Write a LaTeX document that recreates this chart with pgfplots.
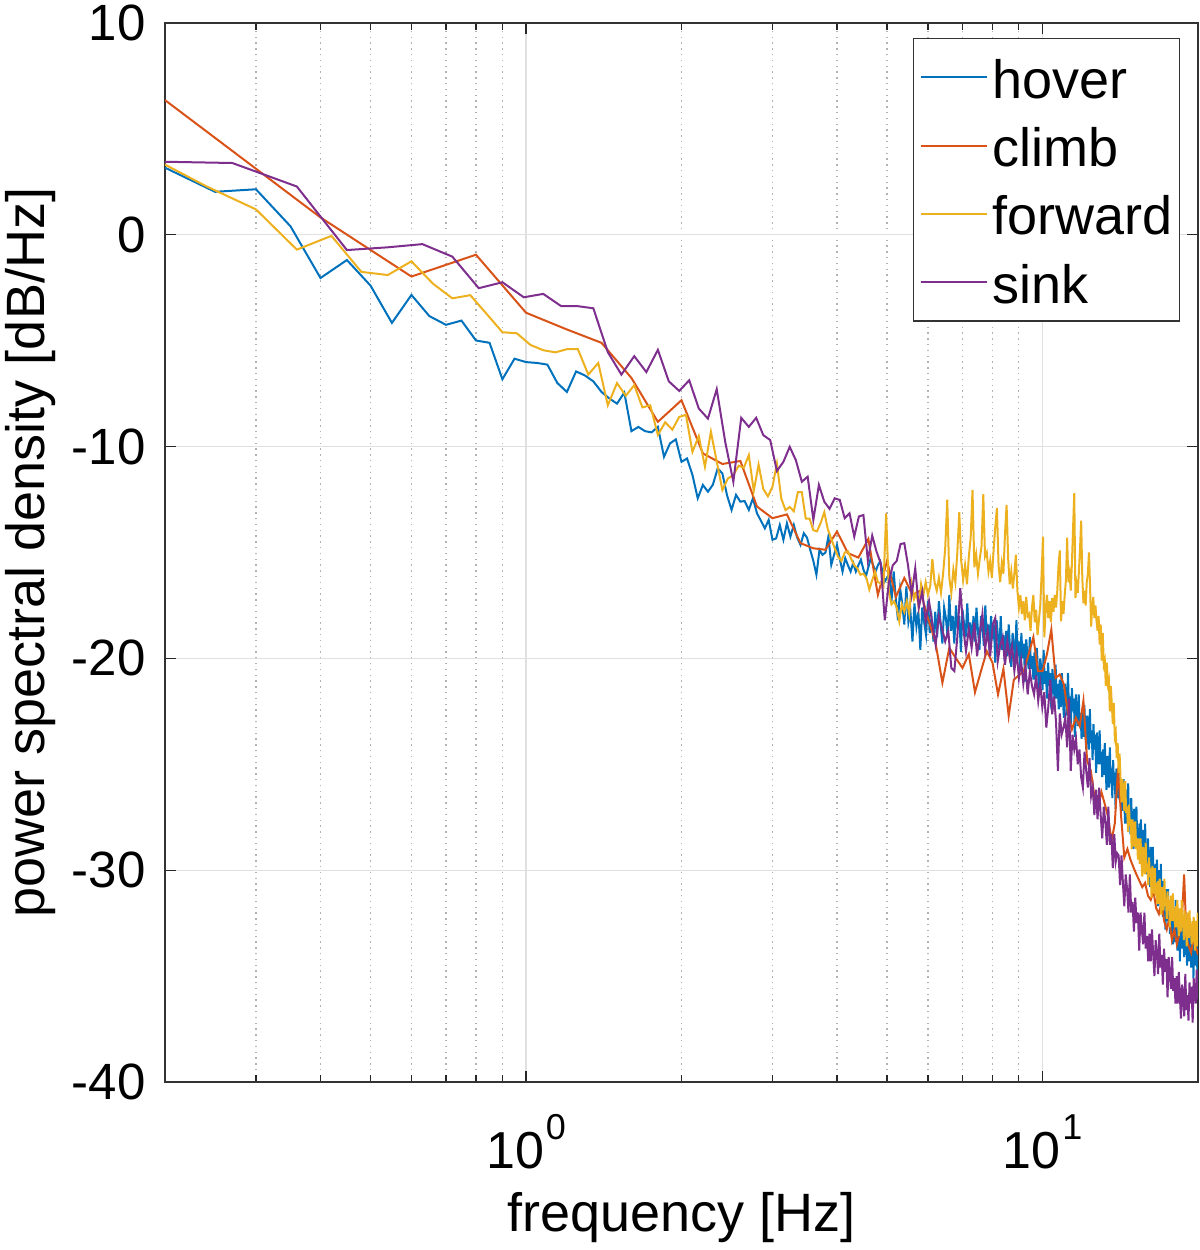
\documentclass[border=0pt]{standalone}
\usepackage{fontspec}
\setmainfont{Liberation Sans}
\usepackage{pgfplots}
\pgfplotsset{compat=1.18}
\definecolor{cHover}{rgb}{0,0.447,0.741}
\definecolor{cClimb}{rgb}{0.850,0.325,0.098}
\definecolor{cForward}{rgb}{0.929,0.694,0.125}
\definecolor{cSink}{rgb}{0.494,0.184,0.556}
\newcommand{\tp}[1]{10\kern1pt\raisebox{0.55em}{\fontsize{18}{18}\selectfont #1}}
\begin{document}
\begin{tikzpicture}
\useasboundingbox (-82.5pt,-84pt) rectangle (517.5pt,541pt);
\begin{axis}[
  scale only axis, width=516.5pt, height=529.5pt,
  xmode=log, xmin=0.2, xmax=20, ymin=-40, ymax=10,
  xtick={1,10}, xticklabels={\tp{0},\tp{1}},
  minor xtick={0.3,0.4,0.5,0.6,0.7,0.8,0.9,2,3,4,5,6,7,8,9},
  ytick={-40,-30,-20,-10,0,10}, yticklabels={-40,-30,-20,-10,0,10},
  minor y tick num=0,
  tick align=inside, tick pos=both,
  major tick length=5.5pt, minor tick length=3.5pt,
  tick style={black!85, line width=0.6pt},
  axis line style={black!80, line width=0.65pt},
  grid=both,
  major grid style={black!12, line width=0.6pt},
  minor grid style={black!30, line width=0.6pt, dash pattern=on 0.7pt off 2.2pt},
  xticklabel style={font=\fontsize{26}{26}\selectfont, anchor=base, inner sep=0pt, yshift=-43pt},
  yticklabel style={font=\fontsize{25.5}{25.5}\selectfont, anchor=east, inner sep=0pt, xshift=-9.5pt},
  xlabel={frequency [Hz]}, ylabel={power spectral density [dB/Hz]},
  xlabel style={font=\fontsize{27}{27}\selectfont, at={(axis description cs:0.5,-0.1416)}, anchor=base},
  ylabel style={font=\fontsize{27}{27}\selectfont, at={(axis description cs:-0.1162,0.5)}, anchor=base},
  legend style={at={(0.9826,0.9859)}, anchor=north east, draw=black!80, line width=0.6pt, fill=white,
    inner xsep=3.3pt, inner ysep=6.3pt, font=\fontsize{27}{27}\selectfont, row sep=8.2pt, column sep=2.5pt,
    nodes={inner sep=0pt, text height=23.5pt, text depth=2.5pt}},
  legend cell align=left,
  legend image code/.code={\draw[#1] (0pt,0pt) -- (33pt,0pt);},
]
\addplot[cHover, line width=1pt] coordinates {
(0.2,3.17) (0.25,2.03) (0.3,2.15) (0.35,0.4) (0.4,-2.04) (0.45,-1.19) (0.5,-2.4) (0.55,-4.16) (0.6,-2.84) (0.65,-3.84)
(0.7,-4.25) (0.75,-4.05) (0.8,-4.99) (0.85,-5.1) (0.9,-6.82) (0.95,-5.85) (1,-6.01) (1.05,-6.05) (1.1,-6.13) (1.15,-7.0)
(1.2,-7.42) (1.25,-6.45) (1.3,-6.64) (1.35,-6.92) (1.4,-7.42) (1.45,-7.73) (1.5,-7.97) (1.55,-7.45) (1.6,-9.27) (1.65,-9.07)
(1.7,-9.27) (1.75,-9.33) (1.8,-9.07) (1.85,-10.48) (1.9,-9.85) (1.95,-9.66) (2,-10.72) (2.05,-10.56) (2.1,-11.34) (2.15,-12.44)
(2.2,-11.81) (2.25,-12.13) (2.3,-11.8) (2.35,-11.03) (2.4,-11.27) (2.45,-12.3) (2.5,-12.99) (2.55,-12.28) (2.6,-12.6) (2.65,-12.57)
(2.7,-12.99) (2.75,-12.44) (2.8,-13.15) (2.85,-13.5) (2.9,-13.86) (2.95,-13.46) (3,-14.4) (3.05,-14.33) (3.1,-13.7) (3.15,-14.4)
(3.2,-13.62) (3.25,-14.25) (3.3,-13.7) (3.35,-14.3) (3.4,-14.64) (3.45,-14.09) (3.5,-14.3) (3.55,-14.87) (3.6,-15.4) (3.65,-16.05)
(3.7,-14.87) (3.75,-15.11) (3.8,-15.0) (3.85,-14.25) (3.9,-15.58) (3.95,-15.1) (4,-14.64) (4.05,-15.3) (4.1,-15.9) (4.15,-15.27)
(4.2,-15.6) (4.25,-15.9) (4.3,-15.5) (4.35,-15.9) (4.4,-15.6) (4.45,-15.34) (4.5,-15.8) (4.55,-16.13) (4.6,-15.7) (4.65,-15.27)
(4.7,-15.6) (4.75,-15.9) (4.8,-15.6) (4.85,-15.42) (4.9,-15.9) (4.95,-16.37) (5,-16.2)
(5.05,-16.0) (5.1,-17.3) (5.15,-15.9) (5.2,-17.2) (5.25,-18.2) (5.3,-16.7) (5.35,-17.4) (5.4,-18.4) (5.45,-16.6) (5.5,-18.3)
(5.55,-17.8) (5.6,-19.2) (5.65,-17.4) (5.7,-18.5) (5.75,-17.8) (5.8,-19.6) (5.85,-17.6) (5.9,-18.3) (5.95,-18.9) (6,-17.3)
(6.05,-18.8) (6.1,-18.1) (6.15,-19.2) (6.2,-17.8) (6.25,-19.0) (6.3,-17.3) (6.35,-18.4) (6.4,-19.3) (6.45,-17.6) (6.5,-18.1)
(6.55,-19.0) (6.6,-17.0) (6.65,-18.7) (6.7,-18.0) (6.75,-19.3) (6.8,-17.5) (6.85,-18.6) (6.9,-18.0) (6.95,-19.7) (7,-17.7)
(7.05,-18.4) (7.1,-19.0) (7.15,-17.4) (7.2,-18.9) (7.25,-18.3) (7.3,-19.4) (7.35,-18.0) (7.4,-19.2) (7.45,-17.6) (7.5,-18.7)
(7.55,-19.6) (7.6,-18.0) (7.65,-18.5) (7.7,-19.4) (7.75,-17.5) (7.8,-19.1) (7.85,-18.4) (7.9,-19.7) (7.95,-18.0) (8,-19.1)
(8.05,-18.4) (8.1,-20.2) (8.15,-18.2) (8.2,-19.0) (8.25,-19.6) (8.3,-18.0) (8.35,-19.6) (8.4,-18.9) (8.45,-20.1) (8.5,-18.7)
(8.55,-19.9) (8.6,-18.4) (8.65,-19.5) (8.7,-20.4) (8.75,-18.8) (8.8,-19.3) (8.85,-20.2) (8.9,-18.2) (8.95,-19.9) (9,-19.2)
(9.05,-20.6) (9.1,-18.8) (9.15,-20.0) (9.2,-19.3) (9.25,-21.1) (9.3,-19.1) (9.35,-19.9) (9.4,-20.5) (9.45,-19.0) (9.5,-20.5)
(9.55,-19.9) (9.6,-21.0) (9.65,-19.7) (9.7,-21.0) (9.75,-19.5) (9.8,-20.6) (9.85,-21.6) (9.9,-20.0) (9.95,-20.5) (10,-21.5)
(10.05,-19.6) (10.1,-21.2) (10.15,-20.6) (10.2,-21.9) (10.25,-20.2) (10.3,-21.3) (10.35,-20.7) (10.4,-22.4) (10.45,-20.5) (10.5,-21.2)
(10.55,-21.9) (10.6,-20.3) (10.65,-21.9) (10.7,-21.2) (10.75,-22.4) (10.8,-21.0) (10.85,-22.3) (10.9,-20.7) (10.95,-21.9) (11,-22.8)
(11.05,-21.2) (11.1,-21.7) (11.15,-22.7) (11.2,-20.7) (11.25,-22.4) (11.3,-21.8) (11.35,-23.1) (11.4,-21.4) (11.45,-22.5) (11.5,-21.9)
(11.55,-23.7) (11.6,-21.7) (11.65,-22.5) (11.7,-23.2) (11.75,-21.7) (11.8,-23.2) (11.85,-22.6) (11.9,-23.8) (11.95,-22.4) (12,-23.7)
(12.05,-22.2) (12.1,-23.4) (12.15,-24.3) (12.2,-22.7) (12.25,-23.3) (12.3,-24.3) (12.35,-22.4) (12.4,-24.0) (12.45,-23.4) (12.5,-24.8)
(12.55,-23.1) (12.6,-24.3) (12.65,-23.6) (12.7,-25.4) (12.75,-23.5) (12.8,-24.3) (12.85,-25.0) (12.9,-23.4) (12.95,-25.0) (13,-24.4)
(13.05,-25.6) (13.1,-24.3) (13.15,-25.5) (13.2,-24.0) (13.25,-25.2) (13.3,-26.2) (13.35,-24.6) (13.4,-25.1) (13.45,-26.1) (13.5,-24.2)
(13.55,-25.9) (13.6,-25.2) (13.65,-26.6) (13.7,-24.8) (13.75,-26.0) (13.8,-25.4) (13.85,-27.1) (13.9,-25.2) (13.95,-25.9) (14,-26.6)
(14.05,-25.1) (14.1,-26.7) (14.15,-26.0) (14.2,-27.2) (14.25,-25.9) (14.3,-27.2) (14.35,-25.7) (14.4,-26.8) (14.45,-27.8) (14.5,-26.2)
(14.55,-26.8) (14.6,-27.8) (14.65,-25.9) (14.7,-27.6) (14.75,-27.0) (14.8,-28.3) (14.85,-26.6) (14.9,-27.8) (14.95,-27.2) (15,-29.0)
(15.05,-27.1) (15.1,-27.9) (15.15,-28.5) (15.2,-27.0) (15.25,-28.6) (15.3,-28.0) (15.35,-29.2) (15.4,-27.8) (15.45,-29.1) (15.5,-27.6)
(15.55,-28.8) (15.6,-29.8) (15.65,-28.1) (15.7,-28.7) (15.75,-29.7) (15.8,-27.8) (15.85,-29.5) (15.9,-28.8) (15.95,-30.2) (16,-28.5)
(16.05,-29.7) (16.1,-29.1) (16.15,-30.8) (16.2,-28.9) (16.25,-29.7) (16.3,-30.4) (16.35,-28.9) (16.4,-30.4) (16.45,-29.8) (16.5,-31.0)
(16.55,-29.7) (16.6,-31.0) (16.65,-29.5) (16.7,-30.7) (16.75,-31.7) (16.8,-30.0) (16.85,-30.6) (16.9,-31.6) (16.95,-29.7) (17,-31.4)
(17.05,-30.8) (17.1,-32.2) (17.15,-30.5) (17.2,-31.7) (17.25,-31.1) (17.3,-32.8) (17.35,-30.9) (17.4,-31.7) (17.45,-32.4) (17.5,-30.9)
(17.55,-32.5) (17.6,-31.8) (17.65,-33.0) (17.7,-31.6) (17.75,-32.9) (17.8,-31.4) (17.85,-32.5) (17.9,-33.5) (17.95,-31.8) (18,-32.4)
(18.05,-33.4) (18.1,-31.4) (18.15,-33.1) (18.2,-32.4) (18.25,-33.8) (18.3,-32.0) (18.35,-33.2) (18.4,-32.5) (18.45,-34.3) (18.5,-32.3)
(18.55,-33.0) (18.6,-33.7) (18.65,-32.1) (18.7,-33.7) (18.75,-33.0) (18.8,-34.1) (18.85,-32.8) (18.9,-34.0) (18.95,-32.5) (19,-33.6)
(19.05,-34.5) (19.1,-32.9) (19.15,-33.4) (19.2,-34.3) (19.25,-32.4) (19.3,-34.0) (19.35,-33.3) (19.4,-34.6) (19.45,-32.9) (19.5,-34.0)
(19.55,-33.3) (19.6,-35.1) (19.65,-33.1) (19.7,-33.8) (19.75,-34.5) (19.8,-32.9) (19.85,-34.4) (19.9,-33.7) (19.95,-34.9) (20,-33.5)
};
\addlegendentry{hover}
\addplot[cClimb, line width=1pt] coordinates {
(0.2,6.36) (0.4,0.82) (0.6,-1.97) (0.8,-0.94) (1,-3.68) (1.2,-4.47) (1.4,-5.1) (1.6,-6.76) (1.8,-8.83) (2,-7.81)
(2.2,-10.32) (2.4,-10.82) (2.6,-10.68) (2.8,-12.83) (3,-13.38) (3.2,-13.2) (3.4,-14.56) (3.6,-14.8) (3.8,-14.87) (4,-14.01)
(4.2,-15.03) (4.4,-15.24) (4.6,-14.36) (4.8,-17.0) (5,-15.4) (5.2,-17.1) (5.4,-16.2) (5.6,-17.0) (5.8,-16.8) (6,-18.1)
(6.2,-19.2) (6.4,-21.15) (6.6,-19.5) (6.8,-20.0) (7,-20.45) (7.2,-19.8) (7.4,-21.6) (7.6,-20.6) (7.8,-19.66) (8,-20.2)
(8.2,-21.7) (8.4,-20.5) (8.6,-22.72) (8.8,-21.0) (9,-20.8) (9.2,-20.6) (9.4,-19.8) (9.6,-19.0) (9.8,-20.6) (10,-20.6)
(10.2,-19.8) (10.4,-18.64) (10.6,-20.92) (10.8,-20.76) (11,-21.23) (11.2,-22.6) (11.4,-23.35) (11.6,-22.8) (11.8,-23.2) (12,-22.0)
(12.2,-24.84) (12.4,-25.3) (12.6,-26.5) (12.8,-27.04) (13,-26.3) (13.2,-26.88) (13.4,-27.5) (13.6,-28.62) (13.8,-27.8) (14,-25.2)
(14.2,-27.5) (14.4,-29.4) (14.6,-29.0) (14.8,-29.5) (15,-29.87) (15.2,-30.2) (15.4,-30.5) (15.6,-30.8) (15.8,-30.6) (16,-31.2)
(16.2,-31.4) (16.4,-31.0) (16.6,-31.8) (16.8,-32.06) (17,-31.5) (17.2,-32.4) (17.4,-32.8) (17.6,-32.3) (17.8,-33.3) (18,-32.8)
(18.2,-33.5) (18.4,-33.0) (18.6,-32.5) (18.8,-30.2) (19,-33.2) (19.2,-33.6) (19.4,-33.9) (19.6,-33.2) (19.8,-33.6) (20,-34.0)
};
\addlegendentry{climb}
\addplot[cForward, line width=1pt] coordinates {
(0.18,3.9) (0.24,2.3) (0.3,1.2) (0.36,-0.7) (0.42,-0.05) (0.48,-1.75) (0.54,-1.9) (0.6,-1.25) (0.66,-2.3) (0.72,-3.0)
(0.78,-2.85) (0.84,-3.75) (0.9,-4.6) (0.96,-4.65) (1.02,-5.2) (1.08,-5.45) (1.14,-5.55) (1.2,-5.4) (1.26,-5.4) (1.32,-6.6)
(1.38,-6.05) (1.44,-8.05) (1.5,-7.0) (1.56,-7.6) (1.62,-7.1) (1.68,-8.15) (1.74,-8.05) (1.8,-9.45) (1.86,-8.85) (1.92,-9.2)
(1.98,-8.6) (2.04,-8.5) (2.1,-10.25) (2.16,-9.5) (2.22,-10.95) (2.28,-9.3) (2.34,-10.7) (2.4,-12.05) (2.46,-11.5) (2.52,-11.35)
(2.58,-10.9) (2.64,-11.0) (2.7,-10.4) (2.76,-12.1) (2.82,-10.85) (2.88,-12.0) (2.94,-12.35) (3,-11.9) (3.06,-10.8) (3.12,-12.45)
(3.18,-13.0) (3.24,-12.85) (3.3,-13.05) (3.36,-12.15) (3.42,-12.15) (3.48,-13.4) (3.54,-13.4) (3.6,-13.95) (3.66,-14.0) (3.72,-13.6)
(3.78,-13.1) (3.84,-13.9) (3.9,-14.35) (3.96,-14.8) (4.02,-15.2) (4.08,-15.4) (4.14,-15.0) (4.2,-14.95) (4.26,-15.3) (4.32,-15.6)
(4.38,-15.75) (4.44,-16.05) (4.5,-16.0) (4.56,-16.2) (4.62,-16.75) (4.68,-16.3) (4.74,-15.9) (4.8,-16.4) (4.86,-16.45) (4.92,-16.6)
(4.98,-13.15) (5.04,-16.85) (5.1,-17.45) (5.16,-17.3) (5.22,-17.6) (5.28,-18.25) (5.34,-17.45) (5.4,-17.8) (5.46,-17.3) (5.52,-17.9)
(5.58,-16.5) (5.64,-17.2) (5.7,-16.9) (5.76,-17.6) (5.82,-16.5) (5.88,-17.0) (5.94,-16.4) (6,-17.0) (6.06,-16.6) (6.12,-15.3)
(6.18,-16.4) (6.24,-16.8) (6.3,-16.2) (6.36,-16.9) (6.42,-16.0) (6.48,-14.8) (6.54,-12.5) (6.6,-16.2) (6.66,-16.9) (6.72,-15.8)
(6.78,-16.4) (6.84,-15.0) (6.9,-13.1) (6.96,-15.4) (7.02,-16.3) (7.08,-15.6) (7.14,-16.5) (7.2,-15.2) (7.26,-14.3) (7.32,-12.05)
(7.38,-15.7) (7.44,-15.1) (7.5,-16.0) (7.56,-15.3) (7.62,-14.7) (7.68,-12.25) (7.74,-15.2) (7.8,-15.0) (7.86,-15.9) (7.92,-15.4)
(7.98,-16.2) (8.04,-14.9) (8.1,-13.8) (8.16,-12.9) (8.22,-15.6) (8.28,-16.4) (8.34,-15.5) (8.4,-16.0) (8.46,-14.1) (8.52,-12.75)
(8.58,-15.3) (8.64,-16.5) (8.7,-15.9) (8.76,-16.7) (8.82,-16.0) (8.88,-15.1) (8.94,-16.8) (9,-17.6) (9.06,-17.0) (9.12,-17.9)
(9.18,-17.3) (9.24,-18.2) (9.3,-17.1) (9.36,-18.0) (9.42,-17.9) (9.48,-18.7) (9.54,-17.6) (9.6,-17.0) (9.66,-18.3) (9.72,-17.7)
(9.78,-18.9) (9.84,-18.2) (9.9,-17.5) (9.96,-16.0) (10.02,-14.25) (10.08,-19.0) (10.14,-17.7) (10.2,-17.0) (10.26,-18.1) (10.32,-17.3)
(10.38,-18.3) (10.44,-17.15) (10.5,-17.8) (10.56,-17.0) (10.62,-17.6) (10.68,-16.8) (10.74,-15.6) (10.8,-14.9) (10.86,-18.25) (10.92,-17.3)
(10.98,-17.9) (11.04,-17.0) (11.1,-16.3) (11.16,-14.3) (11.22,-16.4) (11.28,-16.0) (11.34,-16.8) (11.4,-15.5) (11.46,-13.8) (11.52,-12.2)
(11.58,-17.15) (11.64,-16.5) (11.7,-16.9) (11.76,-15.9) (11.82,-14.8) (11.88,-13.5) (11.94,-16.2) (12,-17.4) (12.06,-16.8) (12.12,-17.5)
(12.18,-16.4) (12.24,-16.0) (12.3,-15.0) (12.36,-16.6) (12.42,-18.5) (12.48,-17.5) (12.54,-17.1) (12.6,-18.1) (12.66,-17.5) (12.72,-18.2)
(12.78,-18.7) (12.84,-18.0) (12.9,-19.35) (12.96,-18.4) (13.02,-20.1) (13.08,-18.8) (13.14,-20.3) (13.2,-20.1) (13.26,-21.3) (13.32,-20.2)
(13.38,-21.2) (13.44,-21.0) (13.5,-22.5) (13.56,-21.3) (13.62,-22.2) (13.68,-23.1) (13.74,-22.1) (13.8,-23.7) (13.86,-23.5) (13.92,-24.7)
(13.98,-24.0) (14.04,-25.4) (14.1,-24.5) (14.16,-25.7) (14.22,-26.8) (14.28,-25.7) (14.34,-26.3) (14.4,-27.2) (14.46,-25.8) (14.52,-27.3)
(14.58,-27.0) (14.64,-28.2) (14.7,-26.9) (14.76,-27.9) (14.82,-27.6) (14.88,-29.0) (14.94,-27.6) (15,-28.3) (15.06,-28.9) (15.12,-27.7)
(15.18,-29.0) (15.24,-28.5) (15.3,-29.5) (15.36,-28.5) (15.42,-29.7) (15.48,-28.5) (15.54,-29.5) (15.6,-30.3) (15.66,-28.9) (15.72,-29.4)
(15.78,-30.2) (15.84,-28.7) (15.9,-30.1) (15.96,-29.7) (16.02,-30.7) (16.08,-29.4) (16.14,-30.3) (16.2,-29.9) (16.26,-31.3) (16.32,-29.8)
(16.38,-30.5) (16.44,-31.1) (16.5,-29.9) (16.56,-31.2) (16.62,-30.6) (16.68,-31.6) (16.74,-30.5) (16.8,-31.6) (16.86,-30.4) (16.92,-31.3)
(16.98,-32.1) (17.04,-30.8) (17.1,-31.2) (17.16,-31.9) (17.22,-30.4) (17.28,-31.7) (17.34,-31.3) (17.4,-32.3) (17.46,-31.0) (17.52,-31.8)
(17.58,-31.4) (17.64,-32.7) (17.7,-31.2) (17.76,-31.8) (17.82,-32.4) (17.88,-31.1) (17.94,-32.4) (18,-31.8) (18.06,-32.7) (18.12,-31.7)
(18.18,-32.7) (18.24,-31.4) (18.3,-32.4) (18.36,-33.1) (18.42,-31.8) (18.48,-32.2) (18.54,-32.9) (18.6,-31.4) (18.66,-32.7) (18.72,-32.2)
(18.78,-33.3) (18.84,-31.9) (18.9,-32.7) (18.96,-32.3) (19.02,-33.6) (19.08,-32.0) (19.14,-32.7) (19.2,-33.2) (19.26,-31.9) (19.32,-33.1)
(19.38,-32.6) (19.44,-33.5) (19.5,-32.4) (19.56,-33.4) (19.62,-32.2) (19.68,-33.1) (19.74,-33.8) (19.8,-32.4) (19.86,-32.8) (19.92,-33.6)
(19.98,-32.0) (20.04,-33.3)
};
\addlegendentry{forward}
\addplot[cSink, line width=1pt] coordinates {
(0.18,3.47) (0.27,3.39) (0.36,2.28) (0.45,-0.72) (0.54,-0.59) (0.63,-0.44) (0.72,-1.03) (0.81,-2.52) (0.9,-2.24) (0.99,-2.95)
(1.08,-2.79) (1.17,-3.37) (1.26,-3.37) (1.35,-3.47) (1.44,-5.54) (1.53,-6.6) (1.62,-5.73) (1.71,-6.48) (1.8,-5.43) (1.89,-6.92)
(1.98,-7.37) (2.07,-6.87) (2.16,-8.2) (2.25,-8.68) (2.34,-7.29) (2.43,-9.77) (2.52,-11.66) (2.61,-8.64) (2.7,-9.07) (2.79,-8.64)
(2.88,-9.46) (2.97,-9.69) (3.06,-11.15) (3.15,-10.72) (3.24,-10.01) (3.33,-10.64) (3.42,-11.66) (3.51,-11.42) (3.6,-13.46) (3.69,-11.81)
(3.78,-12.6) (3.87,-12.94) (3.96,-12.44) (4.05,-12.52) (4.14,-13.38) (4.23,-13.15) (4.32,-14.25) (4.41,-13.3) (4.5,-13.23) (4.59,-15.39)
(4.68,-14.2) (4.77,-14.95) (4.86,-15.5) (4.95,-18.2) (5.04,-16.4) (5.13,-15.6) (5.22,-15.4) (5.31,-14.6) (5.4,-14.56) (5.49,-15.6)
(5.58,-17.0) (5.67,-15.74) (5.76,-17.6) (5.85,-16.84) (5.94,-18.25) (6.03,-17.31) (6.12,-18.4) (6.21,-19.35) (6.3,-18.0) (6.39,-18.6)
(6.48,-19.2) (6.57,-18.7) (6.66,-20.45) (6.75,-20.6) (6.84,-19.0) (6.93,-16.68) (7.02,-18.5) (7.11,-19.66) (7.2,-18.6) (7.29,-19.5)
(7.38,-18.3) (7.47,-19.9) (7.56,-18.8) (7.65,-17.9) (7.74,-19.6) (7.83,-18.7) (7.92,-19.9) (8.01,-18.4) (8.1,-18.09) (8.19,-20.13)
(8.28,-19.4) (8.37,-19.0) (8.46,-20.3) (8.55,-19.2) (8.64,-19.98) (8.73,-19.4) (8.82,-20.6) (8.91,-19.7) (9,-20.92) (9.09,-20.1)
(9.18,-21.2) (9.27,-20.4) (9.36,-21.7) (9.45,-20.6) (9.54,-21.3) (9.63,-21.7) (9.72,-20.8) (9.81,-22.0) (9.9,-21.2) (9.99,-22.3)
(10.08,-21.6) (10.17,-23.27) (10.26,-22.3) (10.35,-21.0) (10.44,-22.64) (10.53,-21.8) (10.62,-23.0) (10.71,-25.31) (10.8,-22.6) (10.89,-23.6)
(10.98,-23.27) (11.07,-22.8) (11.16,-24.2) (11.25,-21.9) (11.34,-25.31) (11.43,-23.6) (11.52,-24.3) (11.61,-23.8) (11.7,-25.0) (11.79,-24.3)
(11.88,-25.62) (11.97,-26.1) (12.06,-24.4) (12.15,-25.3) (12.24,-26.1) (12.33,-24.7) (12.42,-26.5) (12.51,-26.1) (12.6,-27.4) (12.69,-26.2)
(12.78,-27.6) (12.87,-26.1) (12.96,-27.4) (13.05,-28.5) (13.14,-27.0) (13.23,-27.7) (13.32,-28.8) (13.41,-27.0) (13.5,-28.8) (13.59,-28.3)
(13.68,-29.9) (13.77,-28.3) (13.86,-29.6) (13.95,-29.2) (14.04,-29.3) (14.13,-30.7) (14.22,-29.3) (14.31,-30.6) (14.4,-31.7) (14.49,-30.2)
(14.58,-30.9) (14.67,-32.0) (14.76,-30.2) (14.85,-32.0) (14.94,-31.5) (15.03,-32.9) (15.12,-31.3) (15.21,-32.5) (15.3,-32.0) (15.39,-33.8)
(15.48,-32.0) (15.57,-32.8) (15.66,-33.5) (15.75,-32.0) (15.84,-33.7) (15.93,-33.1) (16.02,-34.3) (16.11,-33.0) (16.2,-34.3) (16.29,-32.8)
(16.38,-34.0) (16.47,-35.0) (16.56,-33.3) (16.65,-33.9) (16.74,-34.9) (16.83,-33.0) (16.92,-34.6) (17.01,-34.0) (17.1,-35.4) (17.19,-33.7)
(17.28,-34.8) (17.37,-34.2) (17.46,-36.0) (17.55,-34.1) (17.64,-34.9) (17.73,-35.6) (17.82,-34.1) (17.91,-35.7) (18,-35.1) (18.09,-36.3)
(18.18,-35.0) (18.27,-36.3) (18.36,-34.8) (18.45,-36.0) (18.54,-37.0) (18.63,-35.4) (18.72,-35.9) (18.81,-36.9) (18.9,-34.9) (18.99,-36.6)
(19.08,-35.9) (19.17,-37.1) (19.26,-35.3) (19.35,-36.3) (19.44,-35.5) (19.53,-37.2) (19.62,-35.1) (19.71,-35.8) (19.8,-36.3) (19.89,-34.7)
(19.98,-36.1) (20.07,-35.4)
};
\addlegendentry{sink}
\end{axis}
\end{tikzpicture}
\end{document}
